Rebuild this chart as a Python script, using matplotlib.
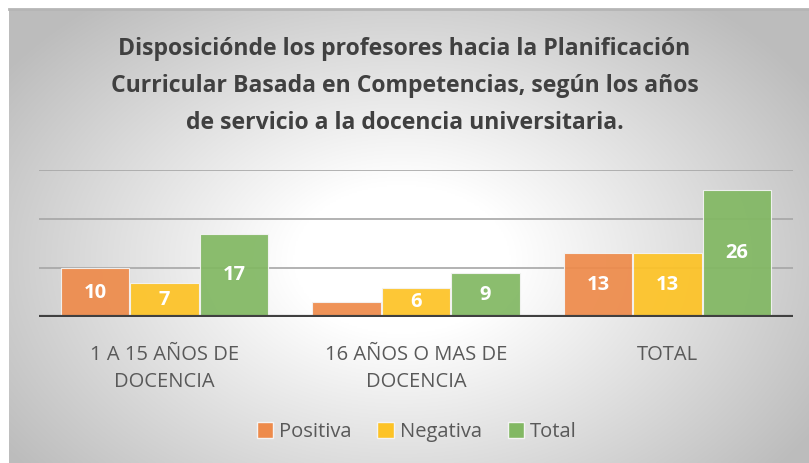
import numpy as np
import matplotlib
matplotlib.use("Agg")
import matplotlib.pyplot as plt
from matplotlib.patches import Patch

categories = ["1 A 15 AÑOS DE\nDOCENCIA", "16 AÑOS O MAS DE\nDOCENCIA", "TOTAL"]
series_names = ["Positiva", "Negativa", "Total"]
positiva = [10, 3, 13]
negativa = [7, 6, 13]
total = [17, 9, 26]
label_positiva = ["10", "", "13"]
label_negativa = ["7", "6", "13"]
label_total = ["17", "9", "26"]
title = ("Disposiciónde los profesores hacia la Planificación\n"
         "Curricular Basada en Competencias, según los años\n"
         "de servicio a la docencia universitaria.")

colors = ["#EE8B4B", "#FDC326", "#82B863"]

W, H = 809, 463
fig = plt.figure(figsize=(W / 100, H / 100), dpi=100)
fig.patch.set_facecolor("white")

# background panel with radial gradient
bg = fig.add_axes([9 / W, 0, (W - 9) / W, (H - 9) / H])
bg.set_axis_off()
ny, nx = 300, 500
yy, xx = np.mgrid[0:ny, 0:nx]
cx, cy = 0.49 * nx, 0.55 * ny
r = np.sqrt(((xx - cx) / (0.62 * nx)) ** 2 + ((yy - cy) / (0.75 * ny)) ** 2)
v = np.clip(1.0 - 0.26 * np.clip(r - 0.22, 0, None) / 0.75, 0.74, 1.0)
img = np.dstack([v, v, v])
bg.imshow(img, aspect="auto", extent=[0, 1, 0, 1], interpolation="bilinear")
bg.plot([0, 1], [1, 1], color="#b5b5b5", lw=2, transform=bg.transAxes, clip_on=False)

ax = fig.add_axes([39 / W, (H - 317) / H, 754 / W, 147 / H])
ax.patch.set_alpha(0)
ax.set_ylim(0, 30)
x = np.arange(len(categories))
bw = 0.272
ax.set_xlim(-0.5, len(categories) - 0.5)
for y in [10, 20, 30]:
    ax.axhline(y, color="#a6a6a6", lw=1.2, zorder=1)
ax.axhline(0, color="#404040", lw=3, zorder=4)

all_vals = [positiva, negativa, total]
all_labels = [label_positiva, label_negativa, label_total]
for i, (vals, labs, c) in enumerate(zip(all_vals, all_labels, colors)):
    xs = x + (i - 1) * (bw + 0.004)
    bars = ax.bar(xs, vals, width=bw, color=c, edgecolor="#f4f4f4", lw=0.8,
                  alpha=0.93, zorder=3)
    for b, lab in zip(bars, labs):
        if lab:
            ax.text(b.get_x() + b.get_width() / 2, b.get_height() / 2, lab,
                    ha="center", va="center", color="white", fontsize=14.5,
                    fontweight="bold", family="Open Sans", zorder=5)

ax.set_yticks([])
ax.set_xticks(x)
ax.set_xticklabels(categories, fontsize=14.5, color="#595959", family="Open Sans",
                   linespacing=1.45)
ax.tick_params(axis="x", length=0, pad=20)
for s in ax.spines.values():
    s.set_visible(False)

fig.text(0.5, (H - 86) / H, title, ha="center", va="center", fontsize=16.6,
         fontweight="bold", color="#404040", family="Open Sans", linespacing=1.7)

handles = [Patch(facecolor=c, edgecolor="#f4f4f4", label=n) for c, n in zip(colors, series_names)]
fig.legend(handles=handles, loc="center", bbox_to_anchor=(0.515, (H - 432) / H),
           ncol=3, frameon=False, handlelength=0.8, handleheight=0.8,
           handletextpad=0.3, columnspacing=1.3,
           prop={"family": "Open Sans", "size": 14.5}, labelcolor="#595959")

fig.savefig("out.png", dpi=100)
